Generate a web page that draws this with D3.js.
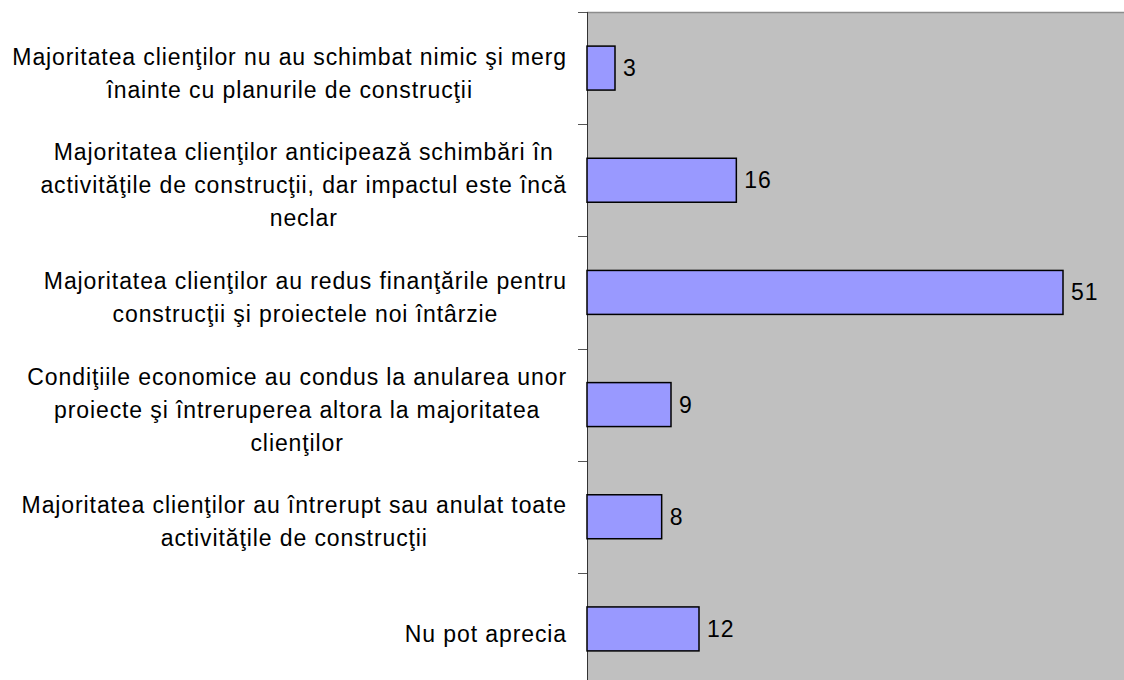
<!DOCTYPE html>
<html>
<head>
<meta charset="utf-8">
<script src="https://cdn.jsdelivr.net/npm/d3@7"></script>
<style>
  body { margin: 0; background: #fff; }
  svg { display: block; font-family: "Liberation Sans", Arial, sans-serif; }
</style>
</head>
<body>
<div id="chart"></div>
<script>
// categories (already wrapped the way the original shows them)
const categories = [
    ["Majoritatea clienţilor nu au schimbat nimic şi merg", "înainte cu planurile de construcţii"],
    ["Majoritatea clienţilor anticipează schimbări în", "activităţile de construcţii, dar impactul este încă", "neclar"],
    ["Majoritatea clienţilor au redus finanţările pentru", "construcţii şi proiectele noi întârzie"],
    ["Condiţiile economice au condus la anularea unor", "proiecte şi întreruperea altora la majoritatea", "clienţilor"],
    ["Majoritatea clienţilor au întrerupt sau anulat toate", "activităţile de construcţii"],
    ["Nu pot aprecia"]
];
const values = [3, 16, 51, 9, 8, 12];
const xTicks = [0, 60];

const width = 1124, height = 680;
const margin = {top: 12, left: 587};
const plotW = 560, plotH = 673;
const fontSize = 23, letterSp = 0.9, lineH = 33;

const svg = d3.select("#chart").append("svg")
    .attr("width", width)
    .attr("height", height);

const x = d3.scaleLinear()
    .domain(xTicks)
    .range([margin.left, margin.left + plotW]);

const y = d3.scaleBand()
    .domain(d3.range(categories.length))
    .range([margin.top, margin.top + plotH])
    .paddingInner(0.608)
    .paddingOuter(0.304);

// plot background
svg.append("rect")
    .attr("x", margin.left)
    .attr("y", margin.top)
    .attr("width", plotW)
    .attr("height", plotH)
    .attr("fill", "#c0c0c0");

svg.append("line")
    .attr("x1", margin.left).attr("x2", margin.left + plotW)
    .attr("y1", margin.top + 0.5).attr("y2", margin.top + 0.5)
    .attr("stroke", "#8c8c8c")
    .attr("stroke-width", 1.5);

// category axis with ticks between categories
const step = y.step();
const tickYs = d3.range(categories.length + 1).map(i => margin.top + i * step);
svg.selectAll(".tick-line")
    .data(tickYs)
    .join("line")
    .attr("x1", margin.left - 9).attr("x2", margin.left)
    .attr("y1", d => Math.round(d) + 0.5).attr("y2", d => Math.round(d) + 0.5)
    .attr("stroke", "#555");

svg.append("line")
    .attr("x1", margin.left + 0.5).attr("x2", margin.left + 0.5)
    .attr("y1", margin.top).attr("y2", margin.top + plotH)
    .attr("stroke", "#333");

// bars
svg.selectAll(".bar")
    .data(values)
    .join("rect")
    .attr("x", x(0))
    .attr("y", (d, i) => y(i))
    .attr("width", d => x(d) - x(0))
    .attr("height", y.bandwidth())
    .attr("fill", "#9999ff")
    .attr("stroke", "#000")
    .attr("stroke-width", 1.5);

// value labels
svg.selectAll(".val")
    .data(values)
    .join("text")
    .attr("x", d => x(d) + 8)
    .attr("y", (d, i) => y(i) + y.bandwidth() / 2)
    .attr("dy", "0.35em")
    .attr("font-size", fontSize)
    .attr("letter-spacing", letterSp)
    .attr("fill", "#000")
    .text(d => d);

// category labels: block right-aligned, lines centred within it
const labelRight = 567;
categories.forEach((lines, i) => {
    const cy = y(i) + y.bandwidth() / 2 + 5;
    const g = svg.append("g");
    const texts = g.selectAll("text")
        .data(lines)
        .join("text")
        .attr("font-size", fontSize)
        .attr("letter-spacing", letterSp)
        .attr("fill", "#000")
        .attr("text-anchor", "middle")
        .attr("y", (d, j) => cy + (j - (lines.length - 1) / 2) * lineH)
        .attr("dy", "0.35em")
        .text(d => d);
    const maxW = d3.max(texts.nodes(), n => n.getComputedTextLength());
    texts.attr("x", labelRight - maxW / 2);
});
</script>
</body>
</html>
